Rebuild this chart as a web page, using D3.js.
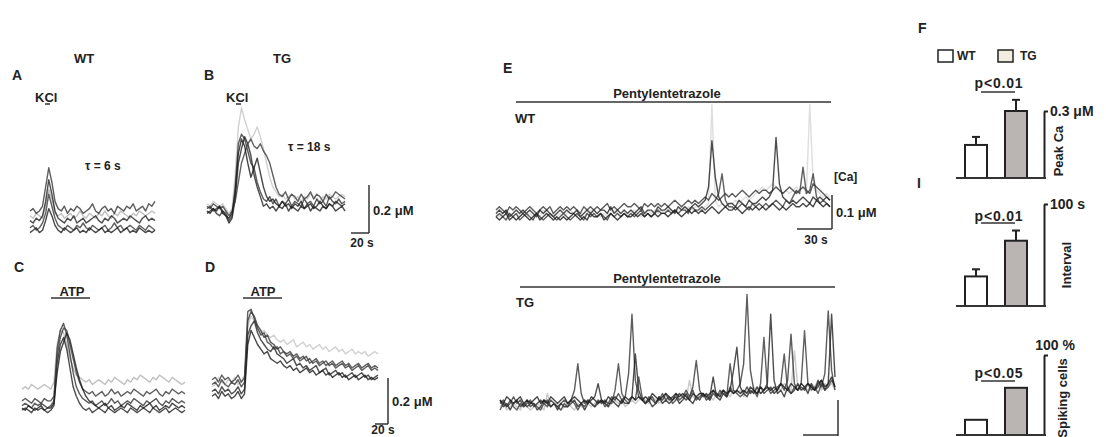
<!DOCTYPE html>
<html>
<head>
<meta charset="utf-8">
<script src="https://cdn.jsdelivr.net/npm/d3@7"></script>
<style>
  body { margin: 0; background: #fff; }
  text { font-family: "Liberation Sans", Arial, sans-serif; font-weight: bold; fill: #222; }
</style>
</head>
<body>
<script>
// traces, values in 0.01 uM steps, one sample per step
// light (grey) traces first so the dark ones sit on top
let kclWT = [
  [8,7,9,8,7,12,19,15,9,8,9,7,8,9,7,8,10,8,7,9,8,7,9,8,10,8,7,9,8,10,9,8,7,9,8,10,9,8,9,10,9],
  [10,11,9,10,12,20,28,22,14,11,10,12,9,11,10,12,11,9,10,11,13,10,9,11,12,10,11,9,12,11,10,12,11,13,10,11,12,10,13,12,14],
  [6,5,7,6,8,14,23,17,10,7,6,5,7,6,8,5,6,7,5,6,7,8,6,5,7,6,8,7,5,6,7,6,8,7,6,5,7,8,6,7,6],
  [3,4,2,3,5,9,17,12,7,4,3,2,4,3,2,4,3,5,3,2,4,3,2,3,4,2,3,5,3,4,2,3,4,3,2,4,3,2,4,3,2],
  [1,2,3,1,2,6,11,8,4,2,1,3,2,1,2,3,1,2,1,3,2,1,2,3,1,2,1,2,3,1,2,3,1,2,1,3,2,1,2,1,2]
]
let kclTG = [
  [13,12,14,13,12,13,11,9,11,25,45,53,48,44,40,42,45,41,36,30,24,20,18,16,17,15,16,17,15,16,14,16,15,17,16,15,14,16,15,17,16,15,16,17,16],
  [11,12,10,11,12,10,9,6,8,20,38,42,40,35,30,28,22,18,15,14,16,13,15,12,14,13,15,12,14,13,12,15,13,14,12,15,13,14,12,16,14,13,15,13,14],
  [9,10,11,9,8,10,8,5,7,15,30,36,41,38,33,25,20,16,12,13,11,12,10,12,11,13,10,12,11,10,12,11,13,10,12,11,10,12,11,13,12,10,11,12,10],
  [12,11,13,12,11,12,10,8,10,14,22,30,34,38,40,37,36,38,35,33,30,25,20,17,16,18,15,17,16,14,17,15,16,18,15,17,16,14,17,15,16,18,17,16,15],
  [10,9,11,10,12,9,8,7,9,18,34,40,37,30,24,28,32,26,20,16,14,15,13,12,14,12,13,11,13,12,14,11,12,13,11,12,14,12,11,13,12,14,13,12,13]
]
let atpWT = [
  [11,12,11,13,12,11,12,13,12,11,14,30,36,35,30,24,20,17,16,15,14,15,13,14,15,14,13,15,14,16,15,14,13,15,14,16,15,17,16,15,14,16,15,17,16,15,14,16,15,14,13,14],
  [4,5,4,3,5,4,5,4,3,4,6,28,36,39,34,26,18,12,9,7,6,5,6,4,5,6,4,5,7,5,6,4,5,6,5,7,6,5,4,6,5,6,7,5,4,6,5,7,6,5,6,5],
  [2,3,2,1,3,2,3,2,1,2,4,22,30,33,28,20,12,8,5,3,2,3,1,2,3,2,1,3,2,1,2,3,2,1,3,2,1,2,3,2,1,3,2,1,2,3,1,2,3,2,1,2],
  [6,7,6,5,7,6,5,7,6,6,8,25,33,37,36,30,24,18,14,11,10,9,10,8,9,10,8,9,11,9,10,8,9,10,9,11,10,9,8,10,9,10,11,9,8,10,9,11,10,9,10,9],
  [3,2,4,3,2,3,4,2,3,3,5,18,27,31,35,32,26,20,15,11,8,6,5,4,3,4,5,3,4,2,3,4,3,5,4,3,2,4,3,4,5,3,4,2,3,4,3,5,4,3,4,3]
]
let atpTG = [
  [12,13,16,14,13,15,14,16,13,14,17,38,42,40,37,35,36,34,33,34,32,31,32,30,31,32,29,30,31,29,30,28,29,30,28,29,27,28,29,27,28,26,27,28,26,27,26,27,25,26,27,26],
  [13,14,12,15,13,12,14,13,15,12,14,40,44,42,38,36,33,34,31,30,28,29,27,26,27,25,26,24,25,23,24,22,23,21,22,23,21,22,20,21,22,20,21,19,20,21,19,20,21,19,20,19],
  [10,11,9,12,10,11,9,10,12,9,11,34,38,40,35,32,30,28,27,29,26,25,24,22,23,24,21,22,20,21,19,20,21,18,19,20,17,18,19,17,18,16,17,18,16,17,18,16,17,15,16,17],
  [15,16,14,17,15,16,14,15,17,14,16,44,45,41,37,34,35,31,30,28,29,26,27,25,26,24,25,23,24,25,22,23,24,22,23,21,22,23,21,22,23,21,22,20,21,22,20,21,22,20,21,20],
  [8,9,7,10,8,9,7,8,10,7,9,30,36,33,30,28,26,27,24,23,22,23,21,20,21,19,20,18,19,20,18,19,17,18,19,17,18,16,17,18,16,17,15,16,17,15,16,17,15,16,15,16]
]
let ptzWT = [
  [2,1,2,3,2,1,2,1,2,1, 2,1,2,1,3,2,1,2,1,2, 1,2,3,2,1,2,1,2,3,2, 2,1,2,1,2,3,2,1,2,1, 2,3,2,1,2,3,2,3,2,3,
   2,3,3,2,3,4,3,4,3,4, 4,3,4,5,35,6,4,5,4,5, 5,6,5,6,7,6,7,8,9,10, 9,10,11,10,9,8,9,8,9,10, 9,10,8,35,12,9,8,7,8,7],
  [3,4,3,2,4,3,4,3,2,3, 4,3,2,3,4,3,4,2,3,4, 3,4,3,4,3,2,4,3,4,3, 4,3,4,5,3,4,3,4,5,4, 4,5,4,3,5,4,5,4,5,4,
   5,4,5,6,5,4,5,6,5,6, 5,6,7,6,8,7,6,7,8,7, 8,7,8,9,8,7,8,9,8,9, 9,8,9,10,9,8,9,10,9,8, 9,10,9,8,11,10,9,8,7,6],
  [2,3,2,3,1,2,3,2,3,2, 3,2,1,3,2,3,2,1,2,3, 2,3,2,2,3,1,2,3,2,3, 2,3,3,2,4,2,3,2,3,2, 3,2,3,4,2,3,3,2,4,3,
   3,4,3,2,4,3,4,3,4,5, 4,5,6,10,24,13,7,5,4,5, 5,4,6,5,4,6,5,5,6,7, 6,7,9,25,11,7,6,5,6,5, 6,7,6,5,7,6,7,6,7,6],
  [1,2,1,0,2,1,2,0,1,2, 1,0,2,1,0,1,2,1,0,1, 2,1,0,1,2,1,0,2,1,2, 1,2,1,0,2,1,2,1,2,1, 2,1,2,3,1,2,1,2,3,2,
   2,3,2,3,2,3,3,2,4,3, 3,4,3,4,5,6,8,14,6,4, 4,3,4,5,4,3,5,4,5,4, 5,4,5,6,5,4,6,5,7,9, 8,16,8,9,14,7,5,6,5,4],
  [1,0,1,2,0,1,0,1,2,1, 0,1,2,0,1,2,1,0,1,0, 1,0,1,2,1,0,1,0,2,1, 1,2,0,1,2,1,0,1,2,1, 1,2,1,2,1,2,1,2,1,2,
   2,1,2,3,2,1,2,3,2,3, 2,3,2,3,4,3,2,3,4,3, 3,4,3,2,3,4,3,4,3,4, 3,4,5,4,3,4,3,4,5,4, 4,5,4,5,4,6,5,4,5,4]
]
let ptzTG = [
  [1,2,0,1,2,1,0,2,1,0, 1,2,1,0,5,1,2,1,0,1, 2,1,0,2,1,3,2,1,2,3, 2,3,1,2,3,2,3,1,2,3, 2,3,4,3,2,4,3,2,3,4,
   3,4,3,5,4,3,9,4,3,5, 4,5,4,3,5,4,6,5,4,6, 5,6,4,6,5,7,6,5,6,7, 6,5,7,6,8,7,6,18,7,8, 7,6,8,7,9,6,8,7,8,6],
  [2,3,1,2,4,2,3,1,2,3, 1,2,3,2,1,3,2,1,2,3, 2,3,6,14,5,2,3,2,1,3, 2,3,2,4,3,5,3,4,11,29, 9,4,3,2,4,3,2,4,3,5,
   3,4,5,3,4,6,4,7,15,6, 4,5,3,6,4,5,6,4,7,5, 6,8,14,35,12,6,5,7,5,6, 7,5,6,8,6,9,23,8,6,7, 6,8,7,6,9,7,11,30,12,6],
  [3,1,2,0,2,3,1,2,1,2, 2,0,1,3,2,1,2,0,2,1, 1,2,3,1,2,0,2,3,4,8, 3,2,1,3,2,1,3,2,2,4, 17,6,3,2,3,1,2,4,2,3,
   2,3,4,2,3,5,3,2,4,3, 5,3,4,10,4,3,5,4,6,12, 19,7,5,4,6,5,7,5,6,8, 29,9,5,6,4,7,5,6,8,6, 7,5,8,6,7,9,6,8,29,10],
  [0,2,1,3,1,0,2,1,3,1, 2,1,0,2,3,1,2,1,0,2, 1,3,2,0,2,1,3,2,1,2, 3,1,2,2,6,14,5,3,2,4, 3,10,4,2,3,4,2,3,5,3,
   4,2,3,5,4,3,4,6,3,4, 5,4,3,5,4,6,5,4,14,6, 5,4,5,7,5,6,4,8,22,7, 5,6,7,8,17,6,5,7,6,8, 24,8,6,7,5,8,6,7,9,7],
  [3,2,4,3,2,3,4,2,3,2, 3,4,2,3,2,4,3,2,3,4, 2,3,4,3,2,3,2,4,3,2, 3,2,4,3,4,3,2,4,3,4, 3,4,3,4,3,5,4,3,4,5,
   4,3,5,4,5,4,3,5,4,5, 5,4,5,6,5,4,6,5,6,5, 6,5,6,5,7,6,5,7,6,7, 6,7,6,8,7,6,8,7,6,8, 7,8,7,6,8,9,7,8,10,7]
]
let traceColors = ['#b0b0b0', '#333', '#222', '#3a3a3a', '#1a1a1a']

// bar panels F
let groups = ['WT', 'TG']
let peakCa = [0.148, 0.30]
let peakCaErr = [0.036, 0.05]
let interval = [29, 64]
let intervalErr = [7, 10]
let spiking = [19, 59]

let svg = d3.select('body').append('svg')
    .attr('width', 1106)
    .attr('height', 437)
    .style('background', '#fff')

// slight blur, the scanned traces are soft
svg.append('defs').append('filter').attr('id', 'soft')
    .append('feGaussianBlur').attr('stdDeviation', 0.45)

function label(x, y, s, size, anchor) {
    return svg.append('text')
        .attr('x', x)
        .attr('y', y)
        .attr('dy', '0.35em')
        .attr('font-size', size)
        .attr('text-anchor', anchor || 'start')
        .text(s)
}

function hline(x1, x2, y, w) {
    svg.append('line').attr('x1', x1).attr('x2', x2).attr('y1', y).attr('y2', y)
        .attr('stroke', '#333').attr('stroke-width', w || 1.5)
}
function vline(x, y1, y2, w) {
    svg.append('line').attr('x1', x).attr('x2', x).attr('y1', y1).attr('y2', y2)
        .attr('stroke', '#333').attr('stroke-width', w || 1.5)
}

function drawTraces(traces, x0, x1, yDomain, yRange, lightColor) {
    let x = d3.scaleLinear().domain([0, traces[0].length - 1]).range([x0, x1])
    let y = d3.scaleLinear().domain(yDomain).range(yRange)
    let line = d3.line().x((d, i) => x(i)).y(d => y(d))
    svg.append('g').attr('filter', 'url(#soft)').selectAll('path')
        .data(traces)
        .join('path')
        .attr('d', line)
        .attr('fill', 'none')
        .attr('stroke', (d, i) => i == 0 && lightColor ? lightColor : traceColors[i])
        .attr('stroke-width', 1.4)
        .attr('stroke-linejoin', 'round')
        .attr('stroke-opacity', 0.8)
}

// A / B  KCl
label(84, 58, 'WT', 13, 'middle')
label(282, 58, 'TG', 13, 'middle')
label(12, 75, 'A', 14)
label(204, 75, 'B', 14)
label(35, 97, 'KCl', 13)
hline(45, 50, 104, 1.5)
label(226, 97, 'KCl', 13)
hline(236, 241, 104, 1.5)
drawTraces(kclWT, 30, 155, [0, 20], [235, 187])
drawTraces(kclTG, 207, 345, [0, 20], [235, 187], '#c4c4c4')
label(85, 166, 'τ = 6 s', 12)
label(288, 147, 'τ = 18 s', 12)
vline(369, 185, 233)
hline(351, 369, 233)
label(373, 210, '0.2 μM', 13)
label(362, 243, '20 s', 12, 'middle')

// C / D  ATP
label(14, 267, 'C', 14)
label(205, 267, 'D', 14)
label(72, 291, 'ATP', 13, 'middle')
hline(51, 90, 298)
label(263, 291, 'ATP', 13, 'middle')
hline(243, 282, 298)
drawTraces(atpWT, 22, 185, [0, 20], [415, 368])
drawTraces(atpTG, 212, 378, [0, 20], [415, 368], '#c4c4c4')
vline(388, 378, 424)
hline(375, 388, 424)
label(392, 401, '0.2 μM', 13)
label(383, 430, '20 s', 12, 'middle')

// E  Pentylentetrazole
label(503, 68, 'E', 14)
label(667, 93, 'Pentylentetrazole', 13, 'middle')
hline(516, 831, 102)
label(515, 118, 'WT', 13)
drawTraces(ptzWT, 496, 830, [0, 10], [220, 187], '#d6d6d6')
label(834, 177, '[Ca]', 12)
vline(832, 195, 229)
hline(797, 832, 229)
label(836, 212, '0.1 μM', 13)
label(816, 240, '30 s', 12, 'middle')

label(667, 278, 'Pentylentetrazole', 13, 'middle')
hline(520, 835, 287)
label(516, 302, 'TG', 13)
drawTraces(ptzTG, 500, 835, [0, 10], [410, 377], '#bdbdbd')
vline(838, 400, 436)
hline(803, 838, 435)

// F  bars
label(918, 28, 'F', 14)
svg.append('rect').attr('x', 938).attr('y', 50).attr('width', 15).attr('height', 12)
    .attr('fill', '#fff').attr('stroke', '#222').attr('stroke-width', 1.5)
label(957, 56, 'WT', 12)
svg.append('rect').attr('x', 998).attr('y', 50).attr('width', 15).attr('height', 12)
    .attr('fill', '#f1ece0').attr('stroke', '#222').attr('stroke-width', 1.5)
label(1020, 56, 'TG', 12)
label(917, 183, 'I', 14)

let xb = d3.scaleBand().domain(groups).range([956, 1036]).paddingInner(0.45).paddingOuter(0.225)
let barFill = ['#fff', '#bab5b3']

function barPanel(values, errs, y, pText, pY, lineY, tickLabel) {
    let g = svg.append('g')
    g.selectAll('rect').data(values).join('rect')
        .attr('x', (d, i) => xb(groups[i]))
        .attr('y', d => y(d))
        .attr('width', xb.bandwidth())
        .attr('height', d => y(0) - y(d))
        .attr('fill', (d, i) => barFill[i])
        .attr('stroke', '#222')
        .attr('stroke-width', 2)
    if (errs) {
        values.forEach((d, i) => {
            let cx = xb(groups[i]) + xb.bandwidth() / 2
            g.append('line').attr('x1', cx).attr('x2', cx).attr('y1', y(d)).attr('y2', y(d + errs[i]))
                .attr('stroke', '#222').attr('stroke-width', 2)
            g.append('line').attr('x1', cx - 4).attr('x2', cx + 4).attr('y1', y(d + errs[i])).attr('y2', y(d + errs[i]))
                .attr('stroke', '#222').attr('stroke-width', 2)
        })
    }
    hline(956, 1046, y(0), 2)
    let ax = g.append('g').attr('transform', 'translate(1044,0)')
        .call(d3.axisRight(y).tickValues([y.domain()[1]]).tickSize(4).tickSizeOuter(0).tickFormat(() => tickLabel))
    ax.select('.domain').attr('stroke', '#222').attr('stroke-width', 2)
    ax.selectAll('.tick line').attr('stroke', '#222').attr('stroke-width', 2)
    ax.selectAll('.tick text').attr('font-size', 14).attr('x', 6).attr('fill', '#222')
        .style('font-family', '"Liberation Sans", Arial, sans-serif').style('font-weight', 'bold')
    label(999, pY, pText, 14, 'middle').attr('letter-spacing', 0.8)
    hline(981, 1015, lineY, 1.5)
    return g
}

let yPeak = d3.scaleLinear().domain([0, 0.3]).range([178, 111])
barPanel(peakCa, peakCaErr, yPeak, 'p<0.01', 83, 92, '0.3 μM')
svg.append('text').attr('transform', 'translate(1058,151) rotate(-90)').attr('dy', '0.35em')
    .attr('text-anchor', 'middle').attr('font-size', 13).text('Peak Ca')

let yInt = d3.scaleLinear().domain([0, 100]).range([306, 204])
barPanel(interval, intervalErr, yInt, 'p<0.01', 216, 223, '100 s')
svg.append('text').attr('transform', 'translate(1066,265) rotate(-90)').attr('dy', '0.35em')
    .attr('text-anchor', 'middle').attr('font-size', 13).text('Interval')

let ySpike = d3.scaleLinear().domain([0, 100]).range([435, 355])
barPanel(spiking, null, ySpike, 'p<0.05', 373, 381, '')
label(1055, 345, '100 %', 14, 'middle')
svg.append('text').attr('transform', 'translate(1062,398) rotate(-90)').attr('dy', '0.35em')
    .attr('text-anchor', 'middle').attr('font-size', 13).text('Spiking cells')
</script>
</body>
</html>
